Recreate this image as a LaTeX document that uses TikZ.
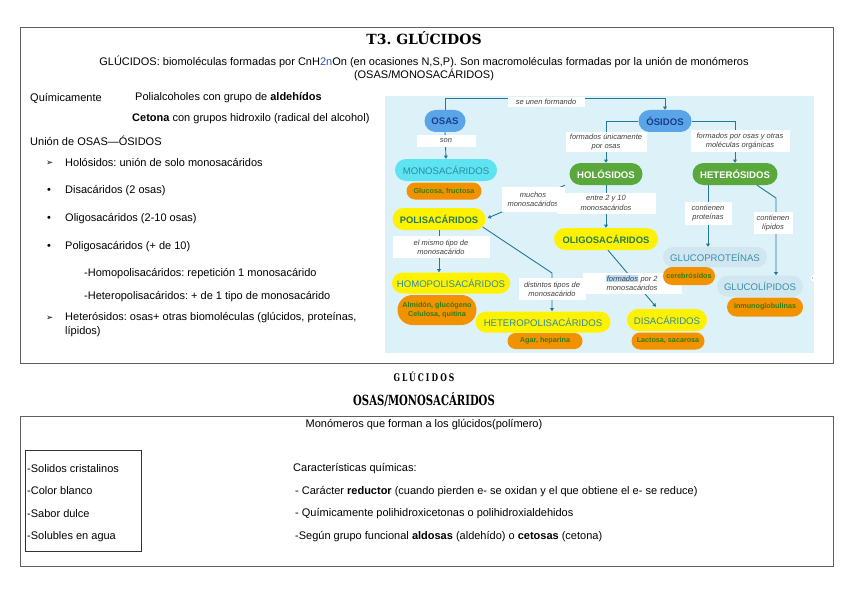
\documentclass[tikz,border=0pt]{standalone}
\usepackage{fontspec}
\setmainfont{Liberation Sans}
\newfontfamily\titlefont{DejaVu Serif}
\newfontfamily\headfont[FakeStretch=0.72]{DejaVu Serif}
\newfontfamily\headfontsp[FakeStretch=0.72,LetterSpace=20]{DejaVu Serif}
\newfontfamily\symfont{DejaVu Sans}
\usetikzlibrary{calc,arrows.meta,shapes.misc}
\frenchspacing
\definecolor{framecol}{HTML}{606060}
\definecolor{mapbg}{HTML}{DDF2F8}
\definecolor{osblue}{HTML}{5AA5E8}
\definecolor{osdark}{HTML}{1A3C8C}
\definecolor{cyanfill}{HTML}{5EE3F2}
\definecolor{tealtext}{HTML}{2A8C9C}
\definecolor{orangefill}{HTML}{F39200}
\definecolor{orangetext}{HTML}{2F7F10}
\definecolor{greenfill}{HTML}{5AA83C}
\definecolor{yellowfill}{HTML}{FFF200}
\definecolor{yellowtext}{HTML}{237A55}
\definecolor{palefill}{HTML}{D0E6F0}
\definecolor{paletext}{HTML}{3A8FA8}
\definecolor{linecol}{HTML}{22789A}
\definecolor{hl}{HTML}{B8DDF5}
\definecolor{subblue}{HTML}{3050B0}
\tikzset{
  txt/.style={inner sep=0pt, anchor=west, font=\fontsize{11}{13}\selectfont},
  btxt/.style={inner sep=0pt, anchor=west, font=\fontsize{11}{13}\selectfont},
  pill/.style={rounded rectangle, inner sep=0pt, align=center},
  bluep/.style={pill, fill=osblue, text=osdark, font=\fontsize{9.6}{11}\selectfont\bfseries},
  cyanp/.style={pill, fill=cyanfill, text=tealtext, font=\fontsize{9.6}{11}\selectfont},
  orp/.style={pill, fill=orangefill, text=orangetext, font=\fontsize{7.2}{8.6}\selectfont\bfseries},
  grp/.style={pill, fill=greenfill, text=white, font=\fontsize{9.6}{11}\selectfont\bfseries},
  ylb/.style={pill, fill=yellowfill, text=yellowtext, font=\fontsize{9.4}{11}\selectfont\bfseries},
  yln/.style={pill, fill=yellowfill, text=tealtext, font=\fontsize{9.6}{11}\selectfont},
  palep/.style={pill, fill=palefill, text=paletext, font=\fontsize{9.6}{11}\selectfont},
  lbl/.style={fill=white, inner sep=0pt, align=center, text=black!75, font=\fontsize{7.5}{9.3}\selectfont\itshape},
  conn/.style={draw=linecol, line width=0.9pt},
  arr/.style={conn, -{Triangle[length=3.2pt,width=3.8pt]}}
}
\begin{document}
\begin{tikzpicture}[x=1pt,y=-1pt]
\useasboundingbox (0,0) rectangle (848,599);
\fill[white] (0,0) rectangle (848,599);
% frames
\draw[framecol, line width=0.8pt] (20,27) rectangle (833,363);
\draw[framecol, line width=0.8pt] (20,416) rectangle (833,566);
\draw[black!80, line width=0.6pt] (25,450) rectangle (141,551);

% title and intro
\node[inner sep=0pt, font=\titlefont\bfseries\fontsize{14}{16}\selectfont] (title) at (424,38) {T3. GLÚCIDOS};
\node[inner sep=0pt, font=\fontsize{11}{13}\selectfont] (intro1) at (424,62) {GLÚCIDOS: biomoléculas formadas por CnH\textcolor{subblue}{2n}On (en ocasiones N,S,P). Son macromoléculas formadas por la unión de monómeros};
\node[inner sep=0pt, font=\fontsize{11}{13}\selectfont] (intro2) at (424,75) {(OSAS/MONOSACÁRIDOS)};

% left text
\node[txt] (t1) at (30,98) {Químicamente};
\node[txt] (t2) at (135,98) {Polialcoholes con grupo de \textbf{aldehídos}};
\node[txt] (t3) at (132,119) {\textbf{Cetona} con grupos hidroxilo (radical del alcohol)};
\node[txt] (t4) at (30,141) {Unión de OSAS—ÓSIDOS};
\node[txt, font=\symfont\fontsize{8.5}{10}\selectfont] (b1) at (46,163) {➢};
\node[txt] (t5) at (65,163) {Holósidos: unión de solo monosacáridos};
\node[txt] (b2) at (47,191) {•};
\node[txt] (t6) at (65,191) {Disacáridos (2 osas)};
\node[txt] (b3) at (47,219) {•};
\node[txt] (t7) at (65,219) {Oligosacáridos (2-10 osas)};
\node[txt] (b4) at (47,247) {•};
\node[txt] (t8) at (65,247) {Poligosacáridos (+ de 10)};
\node[txt] (t9) at (84,274) {-Homopolisacáridos: repetición 1 monosacárido};
\node[txt] (t10) at (84,297) {-Heteropolisacáridos: + de 1 tipo de monosacárido};
\node[txt, font=\symfont\fontsize{8.5}{10}\selectfont] (b5) at (46,318) {➢};
\node[txt] (t11) at (65,318) {Heterósidos: osas+ otras biomoléculas (glúcidos, proteínas,};
\node[txt] (t12) at (65,332) {lípidos)};

% concept map background
\fill[mapbg] (385,96) rectangle (814,353);
\fill[white] (814,278) circle (3.5);
\fill[black!50] (812.5,278) circle (0.7);

% nodes
\node[bluep, minimum width=41pt, minimum height=22pt] (osas) at (445,121) {OSAS};
\node[bluep, minimum width=53pt, minimum height=22pt] (osidos) at (665,121) {ÓSIDOS};
\node[cyanp, minimum width=102pt, minimum height=22pt] (mono) at (446,170) {MONOSACÁRIDOS};
\node[orp, minimum width=75pt, minimum height=17pt] (glu) at (444,191) {Glucosa, fructosa};
\node[grp, minimum width=73pt, minimum height=22pt] (holo) at (606,174) {HOLÓSIDOS};
\node[grp, minimum width=85pt, minimum height=22pt] (heter) at (735,174) {HETERÓSIDOS};
\node[ylb, minimum width=93pt, minimum height=22pt] (poli) at (439,219) {POLISACÁRIDOS};
\node[ylb, minimum width=104pt, minimum height=22pt] (oligo) at (606,239) {OLIGOSACÁRIDOS};
\node[yln, minimum width=118pt, minimum height=21pt] (homo) at (451,283) {HOMOPOLISACÁRIDOS};
\node[orp, minimum width=79pt, minimum height=30pt] (almi) at (437,310) {Almidón, glucógeno\\Celulosa, quitina};
\node[yln, minimum width=135pt, minimum height=21pt] (hetpoli) at (543,322) {HETEROPOLISACÁRIDOS};
\node[orp, minimum width=75pt, minimum height=16pt] (agar) at (545,341) {Agar, heparina};
\node[yln, minimum width=80pt, minimum height=22pt] (disac) at (667,320) {DISACÁRIDOS};
\node[orp, minimum width=73pt, minimum height=17pt] (lact) at (668,341) {Lactosa, sacarosa};
\node[palep, minimum width=104pt, minimum height=20pt] (gp) at (715,257) {GLUCOPROTEÍNAS};
\node[palep, minimum width=86pt, minimum height=21pt] (gl) at (760,286) {GLUCOLÍPIDOS};
\node[orp, minimum width=76pt, minimum height=19pt] (inmu) at (765,307) {inmunoglobulinas};

% connectors
\draw[arr] (osas.north) -- ++(0,-11) -| (osidos.north);
\draw[arr] (osas.south) -- (mono.north);
\draw[arr] (osidos.west) -| (holo.north);
\draw[arr] (osidos.east) -| (heter.north);
\coordinate (hp) at ($(holo.south)+(-41,0)$);
\draw[arr] (hp) -- ($(poli.east)+(2,-1)$);
\draw[arr] (holo.south) -- (oligo.north);
\draw[arr] (poli.south) -- (poli.south |- homo.north);
\coordinate (pbend) at (552,273);
\draw[arr] ($(poli.east)+(-3,8)$) -- (pbend) -- (pbend |- hetpoli.north);
\draw[arr] ($(oligo.south)+(2,0)$) -- ($(disac.north)+(-11,-2)$);
\coordinate (hs1) at ($(heter.south)+(-27,0)$);
\draw[arr] (hs1) -- (hs1 |- gp.north);
\coordinate (hs2) at ($(heter.south)+(22,0)$);
\coordinate (hbend) at (776,198);
\draw[arr] (hs2) -- (hbend) -- (hbend |- gl.north);

% connector labels
\node[lbl, minimum width=77pt, minimum height=10pt] (l1) at (546,102) {se unen formando};
\node[lbl, minimum width=59pt, minimum height=12pt] (l2) at (446,141) {son};
\node[lbl, minimum width=81pt, minimum height=20pt] (l3) at (606,142) {formados únicamente\\por osas};
\node[lbl, minimum width=99pt, minimum height=21pt] (l4) at (740,141) {formados por osas y otras\\moléculas orgánicas};
\node[lbl, minimum width=63pt, minimum height=25pt] (l5) at (533,199) {muchos\\monosacáridos};
\node[lbl, minimum width=99pt, minimum height=21pt] (l6) at (606,203) {entre 2 y 10\\monosacáridos};
\node[lbl, minimum width=97pt, minimum height=22pt] (l7) at (441,247) {el mismo tipo de\\monosacárido};
\node[lbl, minimum width=67pt, minimum height=22pt] (l8) at (552,289) {distintos tipos de\\monosacárido};
\node[lbl, minimum width=99pt, minimum height=21pt] (l9) at (632,283) {{\setlength{\fboxsep}{0.4pt}\colorbox{hl}{formados}} por 2\\monosacáridos};
\node[lbl, minimum width=47pt, minimum height=23pt] (l10) at (708,213) {contienen\\proteínas};
\node[lbl, minimum width=39pt, minimum height=22pt] (l11) at (773,223) {contienen\\lípidos};
\node[orp, minimum width=52pt, minimum height=18pt] (cere) at (689,276) {cerebrósidos};

% second part headings
\node[inner sep=0pt, font=\headfontsp\bfseries\fontsize{10.5}{12}\selectfont] (h1) at (424,377) {GLÚCIDOS};
\node[inner sep=0pt, font=\headfont\bfseries\fontsize{14}{16}\selectfont] (h2) at (424,400) {OSAS/MONOSACÁRIDOS};
\node[inner sep=0pt, font=\fontsize{11}{13}\selectfont] (m1) at (424,425) {Monómeros que forman a los glúcidos(polímero)};

% bottom left box
\node[btxt] (p1) at (27,469) {-Solidos cristalinos};
\node[btxt] (p2) at (27,491) {-Color blanco};
\node[btxt] (p3) at (27,514) {-Sabor dulce};
\node[btxt] (p4) at (27,537) {-Solubles en agua};
% bottom right
\node[btxt] (c1) at (293,469) {Características químicas:};
\node[btxt] (c2) at (295,492) {- Carácter \textbf{reductor} (cuando pierden e- se oxidan y el que obtiene el e- se reduce)};
\node[btxt] (c3) at (295,514) {- Químicamente polihidroxicetonas o polihidroxialdehidos};
\node[btxt] (c4) at (295,537) {-Según grupo funcional \textbf{aldosas} (aldehído) o \textbf{cetosas} (cetona)};
\end{tikzpicture}
\end{document}
